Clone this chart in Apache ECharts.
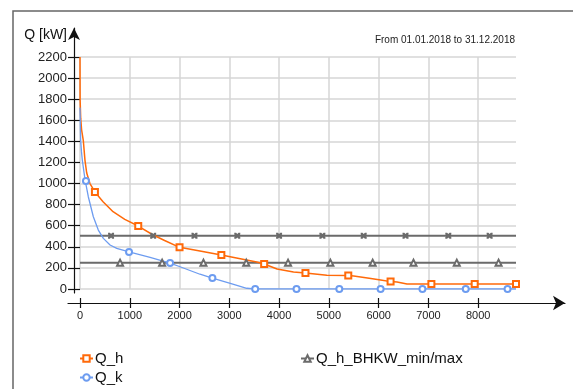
<!DOCTYPE html>
<html>
<head>
<meta charset="utf-8">
<script src="https://cdn.jsdelivr.net/npm/echarts@6/dist/echarts.min.js"></script>
<style>
  html, body { margin: 0; padding: 0; background: #fff; }
  #chart { width: 573px; height: 389px; }
</style>
</head>
<body>
<div id="chart"></div>
<script>
// Jahresdauerlinie, Stunden des Jahres gegen Leistung in kW
var qhHours = [0, 2, 12, 14, 30, 32, 45, 66, 100, 135, 200, 300, 463, 664, 900, 1170, 1470, 1700, 2000, 2410, 2840, 3220, 3550, 3700, 3960, 4290, 4530, 4960, 5390, 5500, 5810, 6040, 6240, 6370, 6570, 7060, 7930, 8760]
var qhKw = [2200, 1800, 1800, 1620, 1620, 1510, 1500, 1410, 1220, 1100, 1000, 920, 828, 733, 660, 597, 512, 460, 395, 360, 322, 287, 256, 237, 190, 161, 152, 130, 128, 123, 101, 85, 70, 66, 48, 48, 48, 48]
var qhMarks = [300, 1170, 2000, 2840, 3700, 4530, 5390, 6240, 7060, 7930, 8760]

var qkHours = [0, 5, 13, 30, 46, 100, 120, 167, 268, 368, 469, 604, 738, 985, 1408, 1810, 2010, 2410, 2660, 3020, 3350, 3520, 4350, 5210, 6040, 6880, 7750, 8590, 8760]
var qkKw = [1720, 1600, 1412, 1300, 1223, 1040, 1024, 875, 685, 559, 480, 417, 386, 351, 300, 246, 211, 140, 104, 54, 7, 0, 0, 0, 0, 0, 0, 0, 0]
var qkMarks = [120, 985, 1810, 2660, 3520, 4350, 5210, 6040, 6880, 7750, 8590]

// BHKW min/max
var bhkwMax = 505
var bhkwMin = 250
var bhkwMaxMarks = [624, 1470, 2300, 3160, 4000, 4870, 5700, 6540, 7400, 8230]
var bhkwMinMarks = [805, 1650, 2480, 3340, 4180, 5030, 5880, 6700, 7570, 8410]

var xTicks = [0, 1000, 2000, 3000, 4000, 5000, 6000, 7000, 8000]
var yTicks = [0, 200, 400, 600, 800, 1000, 1200, 1400, 1600, 1800, 2000, 2200]
var yearHours = 8760
var yTop = 2200

var font = 'Liberation Sans, Arial, sans-serif'

// Plotfläche in Pixel
var plotL = 80, plotR = 516, plotT = 57, plotB = 289
var pxPerH = (plotR - plotL) / yearHours
var pxPerKw = (plotB - plotT) / yTop

function markedLine(hours, vals, marks) {
    return hours.map(function (h, i) {
        return { value: [h, vals[i]], symbol: marks.indexOf(h) >= 0 ? undefined : 'none' }
    })
}
function flatLine(level, marks) {
    var pts = [0].concat(marks).concat([yearHours])
    return pts.map(function (h) {
        return { value: [h, level], symbol: (h === 0 || h === yearHours) ? 'none' : undefined }
    })
}
function plain(v) { return String(v) }

var chart = echarts.init(document.getElementById('chart'))
chart.setOption({
    animation: false,
    backgroundColor: '#fff',
    textStyle: { fontFamily: font },
    title: {
        text: 'From 01.01.2018 to 31.12.2018',
        right: 58, top: 35, padding: 0,
        textStyle: { fontSize: 10, fontWeight: 'normal', color: '#222', fontFamily: font }
    },
    legend: [
        {
            data: ['Q_h', 'Q_k'], orient: 'vertical', left: 79, top: 351, padding: 0,
            itemWidth: 13, itemHeight: 8, itemGap: 4,
            textStyle: { fontSize: 15, color: '#111', fontFamily: font, padding: [0, 0, 0, -3] }
        },
        {
            data: ['Q_h_BHKW_min/max'], orient: 'vertical', left: 300, top: 351, padding: 0,
            itemWidth: 13, itemHeight: 8,
            textStyle: { fontSize: 15, color: '#111', fontFamily: font, padding: [0, 0, 0, -3] }
        }
    ],
    graphic: [{
        type: 'rect', silent: true,
        shape: { x: 13, y: 11, width: 700, height: 500 },
        style: { fill: 'none', stroke: '#666', lineWidth: 1.5 }
    }],
    grid: [
        { left: plotL, right: 573 - plotR, top: plotT, bottom: 389 - plotB },
        { left: 68, right: 8, top: plotT, bottom: 389 - 303 },
        { left: 74, right: 8, top: 28, bottom: 389 - 293 }
    ],
    xAxis: [
        {
            gridIndex: 0, type: 'value', min: 0, max: yearHours, interval: 1000,
            axisLine: { show: false }, axisTick: { show: false }, axisLabel: { show: false },
            splitLine: { show: true, showMaxLine: false, lineStyle: { color: '#d6d6d6', width: 1.5 } }
        },
        {
            gridIndex: 1, type: 'value', position: 'bottom', min: -(plotL - 68) / pxPerH, max: (565 - plotL) / pxPerH,
            axisLine: { show: true, symbol: ['none', 'arrow'], symbolSize: [11, 12], lineStyle: { color: '#111', width: 1.2 } },
            axisTick: { show: true, length: 5, customValues: xTicks, lineStyle: { color: '#111', width: 1.2 } },
            axisLabel: { show: true, margin: 7, customValues: xTicks, formatter: plain, fontSize: 11, color: '#222', fontFamily: font },
            splitLine: { show: false }
        },
        {
            gridIndex: 1, type: 'value', position: 'bottom', min: -(plotL - 68) / pxPerH, max: (565 - plotL) / pxPerH,
            axisLine: { show: false },
            axisTick: { show: true, inside: true, length: 5, customValues: xTicks, lineStyle: { color: '#111', width: 1.2 } },
            axisLabel: { show: false }, splitLine: { show: false }
        },
        {
            gridIndex: 2, type: 'value', show: false
        }
    ],
    yAxis: [
        {
            gridIndex: 0, type: 'value', min: 0, max: yTop, interval: 200,
            axisLine: { show: false }, axisTick: { show: false }, axisLabel: { show: false },
            splitLine: { show: true, lineStyle: { color: '#d6d6d6', width: 1.5 } }
        },
        {
            gridIndex: 1, type: 'value', show: false
        },
        {
            gridIndex: 2, type: 'value', position: 'left', min: -(293 - plotB) / pxPerKw, max: (plotB - 28) / pxPerKw,
            name: 'Q [kW]', nameLocation: 'end', nameGap: -7,
            nameTextStyle: { fontSize: 14, color: '#111', align: 'right', verticalAlign: 'middle', padding: [0, 7, 0, 0], fontFamily: font },
            axisLine: { show: true, symbol: ['none', 'arrow'], symbolSize: [9, 12], lineStyle: { color: '#111', width: 1.2 } },
            axisTick: { show: true, length: 6, customValues: yTicks, lineStyle: { color: '#111', width: 1.2 } },
            axisLabel: { show: true, margin: 7, customValues: yTicks, formatter: plain, fontSize: 13, color: '#222', fontFamily: font },
            splitLine: { show: false }
        },
        {
            gridIndex: 2, type: 'value', position: 'left', min: -(293 - plotB) / pxPerKw, max: (plotB - 28) / pxPerKw,
            axisLine: { show: false },
            axisTick: { show: true, inside: true, length: 6, customValues: yTicks, lineStyle: { color: '#111', width: 1.2 } },
            axisLabel: { show: false }, splitLine: { show: false }
        }
    ],
    series: [
        {
            name: 'Q_h_BHKW_min/max', type: 'line', xAxisIndex: 0, yAxisIndex: 0,
            data: flatLine(bhkwMin, bhkwMinMarks), showAllSymbol: true,
            symbol: 'emptyTriangle', symbolSize: 6,
            lineStyle: { color: '#6b6b6b', width: 2 },
            itemStyle: { color: '#6b6b6b', borderWidth: 1.2 },
            emphasis: { disabled: true }
        },
        {
            name: 'Q_h_BHKW_min/max', type: 'line', xAxisIndex: 0, yAxisIndex: 0,
            data: flatLine(bhkwMax, bhkwMaxMarks), showAllSymbol: true,
            symbol: 'path://M0,0L3,0L5,2L7,0L10,0L10,3L8,5L10,7L10,10L7,10L5,8L3,10L0,10L0,7L2,5L0,3Z', symbolSize: 6,
            lineStyle: { color: '#6b6b6b', width: 2 },
            itemStyle: { color: '#6b6b6b' },
            emphasis: { disabled: true }
        },
        {
            name: 'Q_h', type: 'line', xAxisIndex: 0, yAxisIndex: 0,
            data: markedLine(qhHours, qhKw, qhMarks), showAllSymbol: true,
            symbol: 'emptyRect', symbolSize: 6,
            lineStyle: { color: '#ff6a0a', width: 1.5 },
            itemStyle: { color: '#ff6a0a', borderWidth: 1.2 },
            emphasis: { disabled: true }
        },
        {
            name: 'Q_k', type: 'line', xAxisIndex: 0, yAxisIndex: 0,
            data: markedLine(qkHours, qkKw, qkMarks), showAllSymbol: true,
            symbol: 'emptyCircle', symbolSize: 6,
            lineStyle: { color: '#6d9cf0', width: 1.3 },
            itemStyle: { color: '#6d9cf0', borderWidth: 1.2 },
            emphasis: { disabled: true }
        }
    ]
})
</script>
</body>
</html>
